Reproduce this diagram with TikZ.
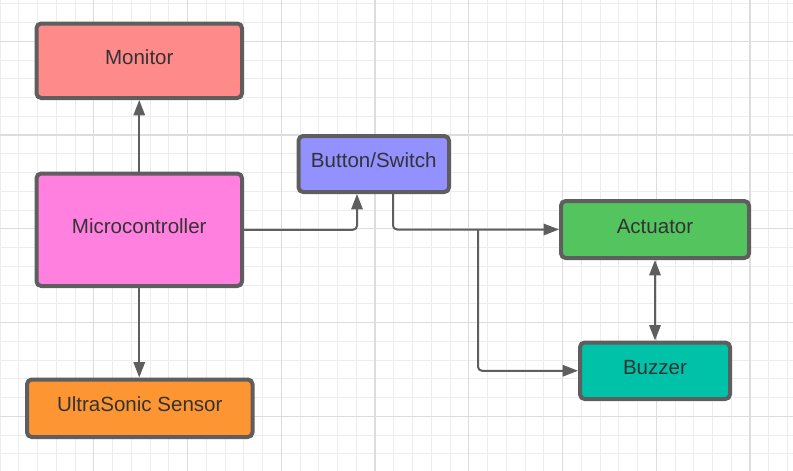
\documentclass[tikz,border=0pt]{standalone}
\usepackage{fontspec}
\setmainfont{Liberation Sans}
\usetikzlibrary{arrows.meta,calc}
\definecolor{gridminor}{HTML}{EDEDED}
\definecolor{gridmed}{HTML}{DCDCDC}
\definecolor{gridmajor}{HTML}{DDDDDD}
\definecolor{edge}{HTML}{5E5E5E}
\definecolor{txt}{HTML}{333333}
\definecolor{cmon}{HTML}{FF8A8A}
\definecolor{cmic}{HTML}{FF80DF}
\definecolor{cbtn}{HTML}{9391FF}
\definecolor{cact}{HTML}{54C45E}
\definecolor{cbuz}{HTML}{00C2A8}
\definecolor{cult}{HTML}{FD9632}
\tikzset{
  blockbox/.style={draw=edge, line width=3pt, rounded corners=3.5pt, inner sep=0pt,
    text=txt, font=\fontsize{15.4}{18}\selectfont, text height=0.72em, text depth=0.16em},
  conn/.style={draw=edge, line width=1.5pt, rounded corners=3pt,
    -{Triangle[length=11.5pt,width=8.5pt]}},
  dconn/.style={draw=edge, line width=1.5pt,
    {Triangle[length=11.5pt,width=8.5pt]}-{Triangle[length=11.5pt,width=8.5pt]}}
}
\begin{document}
\begin{tikzpicture}[x=0.75pt,y=-0.75pt]
\useasboundingbox (0,0) rectangle (793,471);
\fill[white] (0,0) rectangle (793,471);
% grid
\foreach \k in {0,...,42} {
  \draw[gridminor, line width=0.75pt] ({\k*18.75},0) -- ({\k*18.75},471);
}
\foreach \k in {0,...,25} {
  \draw[gridminor, line width=0.75pt] (0,{3.75+\k*18.75}) -- (793,{3.75+\k*18.75});
}
\foreach \x in {93.75,187.5,281.25,468.75,562.5,656.25} {
  \draw[gridmed, line width=0.75pt] (\x,0) -- (\x,471);
}
\foreach \y in {41.25,228.75,322.5,416.25} {
  \draw[gridmed, line width=0.75pt] (0,\y) -- (793,\y);
}
\foreach \x in {375,750} {
  \draw[gridmajor, line width=1.5pt] (\x,0) -- (\x,471);
}
\draw[gridmajor, line width=1.5pt] (0,135) -- (793,135);
% blocks
\node[blockbox, fill=cmon, minimum width=0.75*205.5pt, minimum height=0.75*74.5pt] (monitor) at (139.25,60.75) {Monitor};
\node[blockbox, fill=cmic, minimum width=0.75*205.5pt, minimum height=0.75*112.5pt] (micro) at (139.25,229.75) {Microcontroller};
\node[blockbox, fill=cult, minimum width=0.75*225.5pt, minimum height=0.75*57.5pt] (ultra) at (139.75,408.25) {UltraSonic Sensor};
\node[blockbox, fill=cbtn, minimum width=0.75*150.5pt, minimum height=0.75*56pt] (button) at (373.75,164) {Button/Switch};
\node[blockbox, fill=cact, minimum width=0.75*188pt, minimum height=0.75*57pt] (actuator) at (655,229.5) {Actuator};
\node[blockbox, fill=cbuz, minimum width=0.75*150pt, minimum height=0.75*56.5pt] (buzzer) at (655,370.75) {Buzzer};
% connectors
\draw[conn] (micro.north) -- (monitor.south);
\draw[conn] (micro.south) -- (micro.south |- ultra.north);
\draw[conn] (micro.east) -| ($(button.south)+(-16.75,0)$);
\draw[conn] ($(button.south)+(19.25,0)$) |- (actuator.west);
\coordinate (branch) at ($(actuator.west)+(-81,0)$);
\draw[conn] (branch) |- (buzzer.west);
\draw[dconn] (actuator.south) -- (buzzer.north);
\end{tikzpicture}
\end{document}
